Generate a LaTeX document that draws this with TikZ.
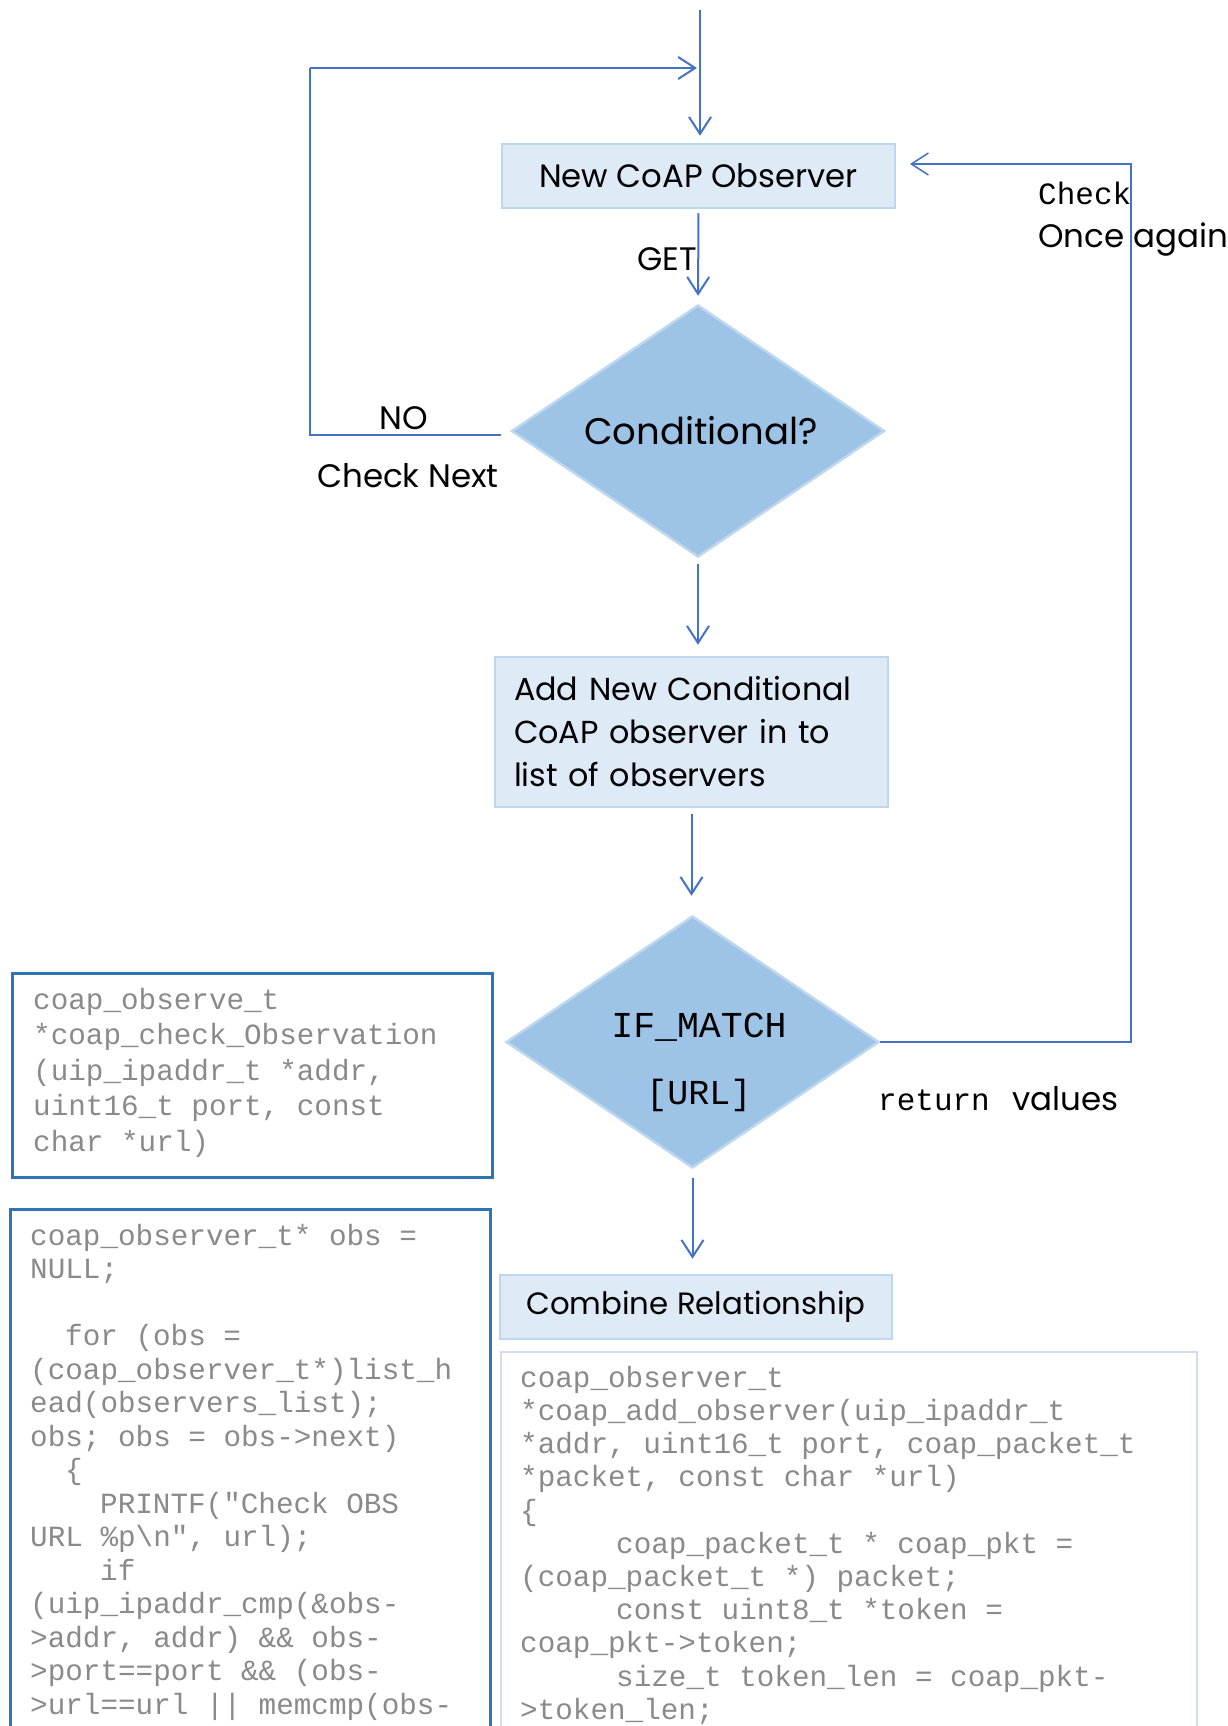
\documentclass[tikz,border=0pt]{standalone}
\usepackage{fontspec}
\usetikzlibrary{arrows.meta,shapes.geometric}
\newfontfamily\gothic{Poppins}
\newfontfamily\cour{Liberation Mono}[Ligatures=TeXOff,WordSpace={1,0,0}]
\definecolor{flowblue}{HTML}{4472C4}
\definecolor{boxfill}{HTML}{DEEBF7}
\definecolor{boxline}{HTML}{BDD7EE}
\definecolor{decfill}{HTML}{9DC3E6}
\definecolor{codeline}{HTML}{2E75B6}
\definecolor{paleline}{HTML}{D3DEEC}
\definecolor{codegray}{HTML}{8A8A8A}

\begin{document}
\begin{tikzpicture}[x=1pt,y=-1pt,
  procbox/.style={draw=boxline, fill=boxfill, line width=2.5pt, inner sep=0pt,
    font=\gothic\fontsize{32.3}{43}\selectfont},
  decision/.style={diamond, draw=boxline, fill=decfill, line width=2.5pt,
    inner sep=0pt, aspect=1.48},
  flow/.style={draw=flowblue, line width=2pt,
    -{Straight Barb[length=17pt,width=22pt]}},
  loopline/.style={draw=flowblue, line width=1.6pt},
  sigframe/.style={draw=codeline, line width=3pt, anchor=north west, inner sep=0pt},
  paleframe/.style={draw=paleline, line width=2pt, anchor=north west, inner sep=0pt},
  codetext/.style={anchor=north west, inner sep=0pt, align=left, text=codegray},
  lbl/.style={inner sep=0pt, font=\gothic\fontsize{32.5}{40}\selectfont},
  monolbl/.style={inner sep=0pt, font=\cour\fontsize{31}{36}\selectfont},
]
\fill[white] (0,0) rectangle (1228,1726);
\useasboundingbox (0,0) rectangle (1228,1726);

% flow chart blocks
\node[procbox, minimum width=393pt, minimum height=64pt] (obs) at (698.5,176) {New CoAP Observer};
\node[decision, minimum width=373pt, minimum height=252pt,
  font=\gothic\fontsize{37}{44}\selectfont] (cond) at (698,431) {\hspace*{6pt}Conditional?};
\node[procbox, minimum width=393pt, minimum height=150pt, text width=355pt, align=left,
  font=\gothic\fontsize{31.8}{43}\selectfont]
  (add) at (691.5,732) {Add New Conditional\\CoAP observer in to\\list of observers};
\node[decision, minimum width=373pt, minimum height=252pt] (match) at (692.5,1042) {};
\node[inner sep=0pt, anchor=base, font=\cour\fontsize{36.5}{40}\selectfont] (mtop) at (699,1037) {IF\_MATCH};
\node[inner sep=0pt, anchor=base, font=\cour\fontsize{35}{40}\selectfont] (mbot) at (699,1104) {[URL]};
\node[procbox, minimum width=392pt, minimum height=64pt,
  font=\gothic\fontsize{30.8}{40}\selectfont] (comb) at (696,1307) {Combine Relationship};

% labels on the connectors
\node[lbl, anchor=base east] (get) at (697,270) {GET};
\node[lbl, anchor=base] (no) at (404,429) {NO};
\node[lbl, anchor=base] (next) at (408,487) {Check Next};
\node[monolbl, anchor=base west] (chk) at (1038,204) {Check};
\node[lbl, anchor=base west] (again) at (1038,247) {Once again};
\node[monolbl, anchor=base west] (ret) at (878,1110) {return};
\node[lbl, anchor=base west] (vals) at (1012,1110) {values};

% code listings
\node[sigframe, minimum width=480pt, minimum height=204pt] (sigbox) at (11,972) {};
\node[codetext, font=\cour\fontsize{29.3}{35.5}\selectfont] (sigcode) at (33,984.2) {%
\strut coap\_observe\_t\\
{}*coap\_check\_Observation\\
(uip\_ipaddr\_t *addr,\\
uint16\_t port, const\\
char *url)};

\node[sigframe, minimum width=480pt, minimum height=560pt] (loopbox) at (9,1208) {};
\node[codetext, font=\cour\fontsize{29.3}{33.5}\selectfont] (loopcode) at (30,1221.5) {%
\strut coap\_observer\_t* obs =\\
NULL;\\
\mbox{}\\
\hspace*{35pt}for (obs =\\
(coap\_observer\_t*)list\_h\\
ead(observers\_list);\\
obs; obs = obs->next)\\
\hspace*{35pt}\{\\
\hspace*{70pt}PRINTF("Check OBS\\
URL \%p\textbackslash n", url);\\
\hspace*{70pt}if\\
(uip\_ipaddr\_cmp(\&obs-\\
>addr, addr) \&\& obs-\\
>port==port \&\& (obs-\\
>url==url || memcmp(obs-};

\node[paleframe, minimum width=696pt, minimum height=420pt] (addbox) at (500,1351) {};
\node[codetext, font=\cour\fontsize{29.3}{33.2}\selectfont] (addcode) at (520,1363.8) {%
\strut coap\_observer\_t\\
{}*coap\_add\_observer(uip\_ipaddr\_t\\
{}*addr, uint16\_t port, coap\_packet\_t\\
{}*packet, const char *url)\\
\{\\
\hspace*{96pt}coap\_packet\_t * coap\_pkt =\\
(coap\_packet\_t *) packet;\\
\hspace*{96pt}const uint8\_t *token =\\
coap\_pkt->token;\\
\hspace*{96pt}size\_t token\_len = coap\_pkt-\\
>token\_len;};

% connectors
\coordinate (entry) at (700,10);
\coordinate (nostart) at (501,435);
\coordinate (nocorner) at (310,68);
\coordinate (merge) at (697,68);
\coordinate (backtop) at (1131,164);
\coordinate (backend) at (910,164);

\draw[flow, shorten >=7pt] (entry) -- (entry |- obs.north);
\draw[loopline] (nostart) -| (nocorner);
\draw[flow] (nocorner) -- (merge);
\draw[flow, shorten <=4pt, shorten >=8pt] (obs.south) -- (cond.north);
\draw[flow, shorten <=6pt, shorten >=11pt] (cond.south) -- (cond.south |- add.north);
\draw[flow, shorten <=6pt, shorten >=19pt] (add.south) -- (add.south |- match.north);
\draw[flow, shorten <=9pt, shorten >=15pt] (match.south) -- (match.south |- comb.north);
\draw[flow, line width=1.5pt] (match.east) -| (backtop) -- (backend);
\end{tikzpicture}
\end{document}
